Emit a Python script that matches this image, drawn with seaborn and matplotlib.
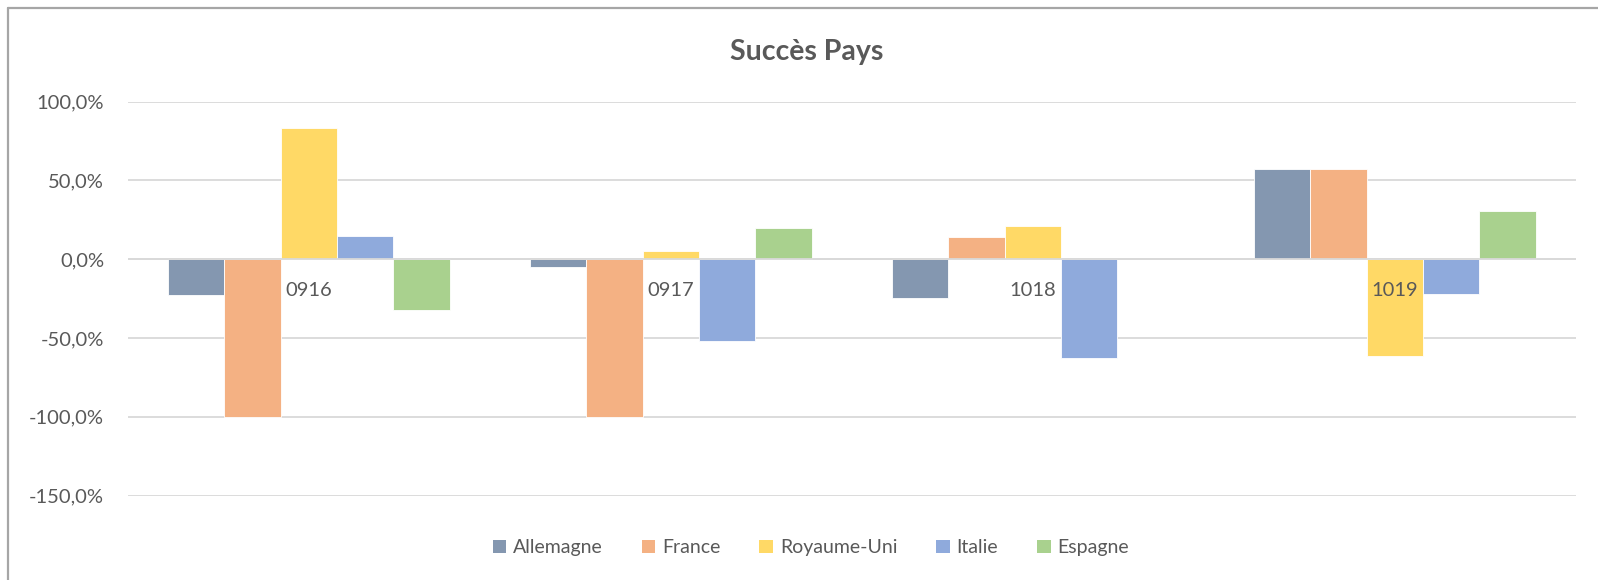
import matplotlib
matplotlib.use("Agg")
import matplotlib.pyplot as plt
from matplotlib.lines import Line2D
from matplotlib.patches import Patch
from matplotlib.ticker import FuncFormatter, MultipleLocator
import pandas as pd
import seaborn as sns

# ── data (percent) ────────────────────────────────────────────────────────────
periodes = ["0916", "0917", "1018", "1019"]
pays = ["Allemagne", "France", "Royaume-Uni", "Italie", "Espagne"]
allemagne = [-22.6, -5.0, -24.4, 57.0]
france = [-100.0, -100.0, 13.8, 57.0]
royaume_uni = [83.0, 5.0, 21.2, -61.3]
italie = [14.8, -52.0, -62.6, -22.3]
espagne = [-32.4, 19.7, 0.0, 30.4]
couleurs = ["#8497B0", "#F4B183", "#FFD966", "#8FAADC", "#A9D18E"]

series = [allemagne, france, royaume_uni, italie, espagne]
df = pd.DataFrame(
    [(p, nom, v) for nom, vals in zip(pays, series) for p, v in zip(periodes, vals)],
    columns=["periode", "pays", "valeur"],
)

# ── style ─────────────────────────────────────────────────────────────────────
sns.set_theme(style="white")
plt.rcParams["font.family"] = ["Lato", "DejaVu Sans"]
GRIS = "#595959"
W, H = 1598, 580

fig = plt.figure(figsize=(W / 100, H / 100), dpi=100)
ax = fig.add_axes([127.7 / W, 1 - 495.5 / H, (1576 - 127.7) / W, (495.5 - 101.7) / H])

sns.barplot(
    data=df, x="periode", y="valeur", hue="pays",
    order=periodes, hue_order=pays, palette=couleurs,
    width=0.778, dodge=True, saturation=1, ax=ax,
    edgecolor="white", linewidth=0.6, legend=False,
)
# zero-height bars should not cut the axis line
for bar in ax.patches:
    if abs(bar.get_height()) < 1e-9:
        bar.set_visible(False)

ax.set_ylim(-150, 100)
ax.set_xlim(-0.5, len(periodes) - 0.5)
ax.yaxis.set_major_locator(MultipleLocator(50))
ax.yaxis.set_major_formatter(FuncFormatter(lambda v, _: f"{v:.1f}%".replace(".", ",")))
ax.grid(axis="y", color="#D9D9D9", lw=1.3)
ax.set_axisbelow(True)
ax.axhline(0, color="#D9D9D9", lw=1.3, zorder=3)
for s in ax.spines.values():
    s.set_visible(False)
ax.tick_params(axis="y", length=0, pad=17, labelsize=14.5, labelcolor=GRIS)
ax.set_xticks([])
ax.set_xlabel("")
ax.set_ylabel("")

# category labels sit just under the zero line
for i, p in enumerate(periodes):
    ax.annotate(p, xy=(i, 0), xytext=(0, -31), textcoords="offset pixels",
                ha="center", va="center", fontsize=14.5, color=GRIS, zorder=4)

fig.text(807 / W, 1 - 51.7 / H, "Succès Pays", ha="center", va="center",
         fontsize=20.5, fontweight="bold", color=GRIS)

handles = [Patch(facecolor=c, edgecolor="none") for c in couleurs]
fig.legend(handles, pays, loc="center", bbox_to_anchor=(811 / W, 1 - 547.7 / H),
           ncol=5, frameon=False, fontsize=14, labelcolor=GRIS,
           handlelength=0.7, handleheight=0.7, handletextpad=0.35,
           columnspacing=2.0)

# chart border (left and top edges visible)
x0, y0 = 8 / W, 1 - 8 / H
fig.add_artist(Line2D([x0, x0], [0, y0], color="#A6A6A6", lw=1.6))
fig.add_artist(Line2D([x0, 1], [y0, y0], color="#A6A6A6", lw=1.6))

fig.savefig("out.png", dpi=100)
